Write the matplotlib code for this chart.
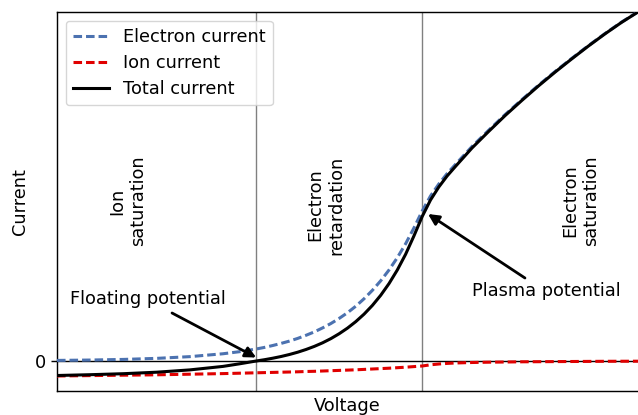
import matplotlib
matplotlib.use("Agg")
import matplotlib.pyplot as plt

# Probe voltage samples (arbitrary units) and the currents read at each one
voltage = [-12, -10, -8, -6, -4, -2, -1, 0, 0.5, 1, 1.5, 2, 2.5, 3, 3.5, 4,
           4.5, 5, 5.5, 6, 6.5, 7, 7.5, 8, 8.5, 9, 9.5, 10, 10.5, 11, 11.5,
           12, 13, 14, 15, 16, 17, 18, 19, 20, 21, 22, 23]
electron_current = [0.058, 0.096, 0.158, 0.263, 0.436, 0.724, 0.932, 1.20,
                    1.36, 1.55, 1.76, 1.99, 2.26, 2.57, 2.91, 3.31, 3.75,
                    4.26, 4.83, 5.48, 6.23, 7.07, 8.02, 9.10, 10.33, 11.72,
                    13.30, 15.00, 16.50, 17.70, 18.74, 19.65, 21.45, 23.07,
                    24.65, 26.13, 27.57, 28.94, 30.25, 31.52, 32.73, 33.88,
                    34.92]
ion_current = [-1.50, -1.46, -1.42, -1.38, -1.32, -1.26, -1.22, -1.18, -1.16,
               -1.14, -1.12, -1.10, -1.08, -1.05, -1.03, -1.00, -0.97, -0.94,
               -0.91, -0.88, -0.84, -0.80, -0.76, -0.72, -0.67, -0.62, -0.56,
               -0.50, -0.38, -0.30, -0.24, -0.20, -0.15, -0.12, -0.10, -0.08,
               -0.07, -0.06, -0.05, -0.04, -0.03, -0.025, -0.02]
total_current = [-1.45, -1.37, -1.27, -1.12, -0.89, -0.54, -0.28, 0.0, 0.13,
                 0.28, 0.45, 0.65, 0.88, 1.15, 1.46, 1.82, 2.24, 2.73, 3.29,
                 3.94, 4.69, 5.56, 6.57, 7.74, 9.10, 10.67, 12.50, 14.45,
                 16.10, 17.40, 18.50, 19.45, 21.30, 22.95, 24.55, 26.05,
                 27.50, 28.88, 30.20, 31.48, 32.70, 33.85, 34.90]

floating_potential = 0.0
plasma_potential = 10.0

region_labels = ["Ion\nsaturation", "Electron\nretardation", "Electron\nsaturation"]
region_label_pos = [(-7.72, 16.0), (4.2, 15.6), (19.57, 16.0)]

s = 1.28
plt.rcParams.update({
    "font.family": "DejaVu Sans",
    "font.size": 10 * s,
    "axes.linewidth": 0.8 * s,
    "ytick.major.size": 3.5 * s,
    "ytick.major.width": 0.8 * s,
    "legend.handlelength": 2.0,
    "legend.labelspacing": 0.45,
})

fig = plt.figure(figsize=(6.38, 4.15), dpi=100)
ax = fig.add_axes([57 / 638, 24 / 415, 581 / 638, 379 / 415])

lw = 2.2
dash = (0, (2.8, 1.3))
ax.plot(voltage, electron_current, color="#4c72b0", lw=lw, linestyle=dash,
        label="Electron current", zorder=3)
ax.plot(voltage, ion_current, color="#e00000", lw=lw, linestyle=dash,
        label="Ion current", zorder=3)
ax.plot(voltage, total_current, color="black", lw=lw,
        label="Total current", zorder=4)

ax.axhline(0, color="black", lw=1.0, zorder=2)
ax.axvline(floating_potential, color="gray", lw=1.0, zorder=1)
ax.axvline(plasma_potential, color="gray", lw=1.0, zorder=1)

for text, (x, y) in zip(region_labels, region_label_pos):
    ax.text(x, y, text, rotation=90, ha="center", va="center",
            multialignment="center")

arrow = dict(arrowstyle="-|>", color="black", lw=2.0, mutation_scale=16,
             shrinkA=0, shrinkB=0)
ax.text(-6.52, 6.2, "Floating potential", ha="center", va="center")
ax.annotate("", xy=(floating_potential, 0.35), xytext=(-5.07, 4.8),
            arrowprops=arrow)
ax.text(17.49, 7.0, "Plasma potential", ha="center", va="center")
ax.annotate("", xy=(10.35, 14.7), xytext=(16.19, 8.3), arrowprops=arrow)

ax.set_xlim(-12, 23)
ax.set_ylim(-3.0, 34.9)
ax.set_xticks([])
ax.set_yticks([0])
ax.set_yticklabels(["0"])
ax.spines["right"].set_visible(False)
ax.set_xlabel("Voltage", labelpad=4)
ax.set_ylabel("Current", labelpad=4)

ax.legend(loc="upper left")

fig.savefig("out.png", dpi=100)
